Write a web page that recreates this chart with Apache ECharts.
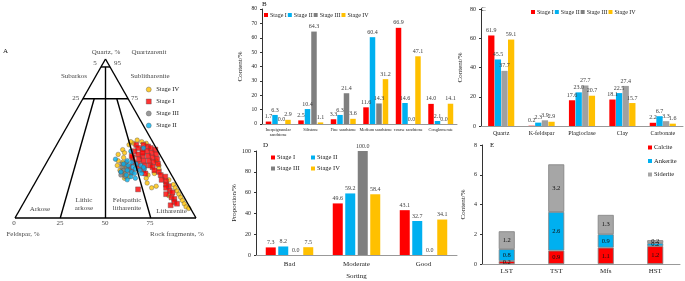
<!DOCTYPE html>
<html>
<head>
<meta charset="utf-8">
<script src="https://cdn.jsdelivr.net/npm/echarts@6/dist/echarts.min.js"></script>
<style>
  html, body { margin: 0; padding: 0; background: #fff; }
  #chart { width: 685px; height: 281px; }
</style>
</head>
<body>
<div id="chart"></div>
<script>
const FONT = '"Liberation Serif", "Times New Roman", serif'

const stages = ['Stage I', 'Stage II', 'Stage III', 'Stage IV']
const stageColors = ['#ff0000', '#00b0f0', '#7f7f7f', '#ffc000']

// A: ternary points as [Quartz %, Rock fragments %]
const ptsStage1 = [[46,44],[46,48],[45,51],[44,46],[44,53],[43,49],[43,56],[42,45],[42,52],[41,55],[40,48],[40,58],[39,51],[39,54],[38,46],[38,57],[37,50],[37,60],[36,53],[36,56],[35,48],[35,59],[34,51],[34,62],[33,55],[33,58],[32,47],[32,60],[31,53],[30,56],[30,62],[29,50],[28,58],[41,50],[39,45],
  [29,65],[27,67],[26,70],[24,69],[23,72],[21,73],[20,75],[19,74],[17,77],[16,79],[15,76],[13,80],[12,82],[10,83],[9,85],[8,82],[18,59]]
const ptsStage2 = [[37,37],[35,47],[34,50],[33,46],[33,53],[32,49],[31,51],[30,47],[30,54],[29,50],[28,52],[27,48],[26,51],[25,54],[28,56],[31,56],[36,44],[34,43],[24,50],[29,44],[32,55],[42,43],[44,49]]
const ptsStage3 = [[34,42],[33,45],[32,43],[31,46],[30,45],[30,48],[29,44],[28,47],[27,45],[26,48],[35,44],[28,50]]
const ptsStage4 = [[49,43],[48,46],[47,42],[47,49],[48,40],[46,40],[43,38],[41,40],[40,37],[38,41],[36,39],[35,42],[33,40],[32,44],[30,43],[29,46],[27,47],[26,50],[25,48],
  [36,60],[33,63],[31,64],[28,63],[27,60],[25,60],[22,62],[19,66],
  [24,73],[21,77],[19,79],[17,81],[15,83],[13,85],[11,87],[9,89],[7,91],[6,93],[14,78],[20,68]]
const qLevels = [95, 75]
const ratioLines = [25, 50, 75]

// B: lithology
const lithology = ['Inequigranular\nsandstone', 'Siltstone', 'Fine sandstone', 'Medium sandstone', 'coarse sandstone', 'Conglomerate']
const lithStage1 = [1.7, 2.5, 3.3, 11.6, 66.9, 14.0]
const lithStage2 = [6.3, 10.4, 6.3, 60.4, 14.6, 2.1]
const lithStage3 = [0.0, 64.3, 21.4, 14.3, 0.0, 0.0]
const lithStage4 = [2.9, 1.1, 3.6, 31.2, 47.1, 14.1]

// C: composition
const minerals = ['Quartz', 'K-feldspar', 'Plagioclase', 'Clay', 'Carbonate']
const minStage1 = [61.9, 0.2, 17.6, 18.1, 2.2]
const minStage2 = [45.5, 2.3, 23.0, 22.5, 6.7]
const minStage3 = [37.7, 3.9, 27.7, 27.4, 3.3]
const minStage4 = [59.1, 2.9, 20.7, 15.7, 1.6]

// D: sorting
const sorting = ['Bad', 'Moderate', 'Good']
const sortStage1 = [7.3, 49.6, 43.1]
const sortStage2 = [8.2, 59.2, 32.7]
const sortStage3 = [0.0, 100.0, 0.0]
const sortStage4 = [7.5, 58.4, 34.1]

// E: carbonate cements
const tracts = ['LST', 'TST', 'Mfs', 'HST']
const calcite = [0.2, 0.9, 1.1, 1.2]
const ankerite = [0.8, 2.6, 0.9, 0.2]
const siderite = [1.2, 3.2, 1.3, 0.2]

const tern = p => [p[1] + p[0] / 2, p[0]]

// ternary field texts, in plot coordinates
const ternTexts = [
  ['Quartz, %', 50.3, 104.6], ['Quartzarenit', 74, 104.6],
  ['5', 44.2, 97.5], ['95', 56.6, 97.5],
  ['Subarkos', 32.6, 89.3], ['Sublitharenite', 74.6, 89.3],
  ['25', 33.5, 75.5], ['75', 66, 75.5],
  ['Arkose', 13.8, 5.6], ['Lithic\narkose', 38.1, 8.6], ['Felspathic\nlitharenite', 61.9, 8.6], ['Litharenite', 86.5, 4.6],
  ['0', -0.6, -3], ['25', 24.9, -3], ['50', 49.7, -3], ['75', 74.6, -3],
  ['Feldspar, %', 4.4, -10], ['Rock fragments, %', 89.5, -10]
]

function ternSegments() {
  const segs = [[[0, 0], [100, 0]], [[100, 0], [50, 100]], [[50, 100], [0, 0]]]
  qLevels.forEach(q => segs.push([tern([q, 0]), tern([q, 100 - q])]))
  ratioLines.forEach(r => {
    const top = r === 50 ? qLevels[0] : qLevels[1]
    segs.push([tern([top, (100 - top) * r / 100]), tern([0, r])])
  })
  return segs
}

function barSeries(name, data, idx, color, opt) {
  return Object.assign({
    name: name,
    type: 'bar',
    xAxisIndex: idx,
    yAxisIndex: idx,
    data: data,
    itemStyle: { color: color },
    label: {
      show: true, position: 'top', distance: 2,
      fontFamily: FONT, fontSize: 6, color: '#404040',
      formatter: p => p.value.toFixed(1)
    }
  }, opt)
}

function catAxis(idx, data, fs, extra) {
  return Object.assign({
    type: 'category', gridIndex: idx, data: data,
    axisLine: { lineStyle: { color: '#999', width: 1 } },
    axisTick: { show: false },
    axisLabel: { interval: 0, fontFamily: FONT, fontSize: fs, color: '#222', margin: 4 }
  }, extra)
}

function valAxis(idx, max, interval, name, gap, fs) {
  return {
    type: 'value', gridIndex: idx, min: 0, max: max, interval: interval,
    name: name, nameLocation: 'middle', nameGap: gap,
    nameTextStyle: { fontFamily: FONT, fontSize: 7, color: '#222' },
    splitLine: { show: false },
    axisLine: { show: true, lineStyle: { color: '#333', width: 1 } },
    axisTick: { show: true, length: 2, lineStyle: { color: '#333' } },
    axisLabel: { fontFamily: FONT, fontSize: fs, color: '#222', margin: 5 }
  }
}

function legendFor(names, left, top, orient, gap, fs) {
  return {
    data: names, left: left, top: top, orient: orient || 'horizontal',
    itemWidth: 4, itemHeight: 4, itemGap: gap, icon: 'rect', padding: 0,
    itemStyle: { borderWidth: 0 },
    textStyle: { fontFamily: FONT, fontSize: fs || 6, color: '#222', padding: [0, 0, 0, -3] }
  }
}

const chart = echarts.init(document.getElementById('chart'))

const series = []

// A
ternSegments().forEach(s => series.push({
  type: 'line', xAxisIndex: 0, yAxisIndex: 0, data: s, symbol: 'none', silent: true,
  lineStyle: { color: '#000', width: 1.4 }, clip: false
}))
const ternSets = [
  ['A-Stage IV', ptsStage4, 'circle', stageColors[3]],
  ['A-Stage I', ptsStage1, 'rect', stageColors[0]],
  ['A-Stage III', ptsStage3, 'circle', stageColors[2]],
  ['A-Stage II', ptsStage2, 'circle', stageColors[1]]
]
ternSets.forEach(t => series.push({
  name: t[0], type: 'scatter', xAxisIndex: 0, yAxisIndex: 0,
  data: t[1].map(tern), symbol: t[2], symbolSize: t[2] === 'rect' ? 5 : 4.5,
  itemStyle: { color: t[3], borderColor: '#555', borderWidth: 0.5 }
}))
series.push({
  type: 'scatter', xAxisIndex: 0, yAxisIndex: 0, symbolSize: 0, silent: true, clip: false,
  data: ternTexts.map(t => ({ value: [t[1], t[2]], name: t[0] })),
  label: {
    show: true, position: 'inside', formatter: p => p.name,
    fontFamily: FONT, fontSize: 7, color: '#111', lineHeight: 8
  }
})

// B
const lithData = [lithStage1, lithStage2, lithStage3, lithStage4]
stages.forEach((s, i) => series.push(barSeries(s, lithData[i], 1, stageColors[i], { barWidth: 5.5, barGap: '18%' })))

// C
const minData = [minStage1, minStage2, minStage3, minStage4]
const cColors = ['#ff0000', '#00b0f0', '#a0a0a0', '#ffc000']
stages.forEach((s, i) => series.push(barSeries(s, minData[i], 2, cColors[i], { barWidth: 6.3, barGap: '5%' })))

// D
const sortData = [sortStage1, sortStage2, sortStage3, sortStage4]
stages.forEach((s, i) => series.push(barSeries(s, sortData[i], 3, stageColors[i], { barWidth: 10, barGap: '25%' })))

// E
const eNames = ['Calcite', 'Ankerite', 'Siderite']
const eData = [calcite, ankerite, siderite]
const eColors = ['#ff0000', '#00b0f0', '#a6a6a6']
eNames.forEach((n, i) => series.push({
  name: n, type: 'bar', stack: 'cement', xAxisIndex: 4, yAxisIndex: 4,
  data: eData[i], barWidth: 16,
  itemStyle: { color: eColors[i], borderColor: '#808080', borderWidth: 0.8 },
  label: {
    show: true, position: 'inside', fontFamily: FONT, fontSize: 6.5, color: '#111',
    formatter: p => p.value.toFixed(1)
  }
}))

const option = {
  animation: false,
  backgroundColor: '#fff',
  title: [
    { text: 'A', left: 3, top: 48 },
    { text: 'B', left: 262, top: 1 },
    { text: 'C', left: 481, top: 6 },
    { text: 'D', left: 263, top: 142 },
    { text: 'E', left: 490, top: 142 }
  ].map(t => Object.assign(t, { padding: 0, textStyle: { fontFamily: FONT, fontSize: 7, fontWeight: 'normal', color: '#111' } })),
  grid: [
    { left: 15, top: 59, width: 181, height: 159 },
    { left: 262, top: 9, width: 195, height: 115 },
    { left: 481, top: 9, width: 202, height: 117 },
    { left: 256, top: 151, width: 201, height: 108 },
    { left: 482, top: 145, width: 198, height: 119 }
  ],
  xAxis: [
    { type: 'value', gridIndex: 0, min: 0, max: 100, show: false },
    catAxis(1, lithology, 4.3, { axisLabel: { interval: 0, fontFamily: FONT, fontSize: 4.3, color: '#222', margin: 3, lineHeight: 5 } }),
    catAxis(2, minerals, 6),
    catAxis(3, sorting, 7, {
      axisLabel: { interval: 0, fontFamily: FONT, fontSize: 7, color: '#222', margin: 6 },
      name: 'Sorting', nameLocation: 'middle', nameGap: 18,
      nameTextStyle: { fontFamily: FONT, fontSize: 7, color: '#222' }
    }),
    catAxis(4, tracts, 7)
  ],
  yAxis: [
    { type: 'value', gridIndex: 0, min: 0, max: 100, show: false },
    valAxis(1, 80, 10, 'Content/%', 18, 5.5),
    valAxis(2, 80, 20, 'Content/%', 17, 6),
    valAxis(3, 100, 20, 'Proportion/%', 18, 6),
    valAxis(4, 8, 2, 'Content/%', 15, 6)
  ],
  legend: [
    Object.assign(legendFor(['A-Stage IV', 'A-Stage I', 'A-Stage III', 'A-Stage II'], 146, 86, 'vertical', 5, 6.5), {
      itemWidth: 5, itemHeight: 5, icon: null,
      itemStyle: { borderWidth: 0.5 },
      formatter: n => n.replace('A-', ''),
      textStyle: { fontFamily: FONT, fontSize: 6.5, color: '#222', padding: [0, 0, 0, 0] }
    }),
    legendFor(stages, 264, 12, 'horizontal', 1, 6),
    legendFor(stages, 531, 9, 'horizontal', 1, 6),
    legendFor(['Stage I'], 271, 154, 'horizontal', 0, 6.5),
    legendFor(['Stage II'], 311, 154, 'horizontal', 0, 6.5),
    legendFor(['Stage III'], 271, 165, 'horizontal', 0, 6.5),
    legendFor(['Stage IV'], 311, 165, 'horizontal', 0, 6.5),
    legendFor(eNames, 648, 144, 'vertical', 6.5, 6.5)
  ],
  series: series
}

chart.setOption(option)
</script>
</body>
</html>
